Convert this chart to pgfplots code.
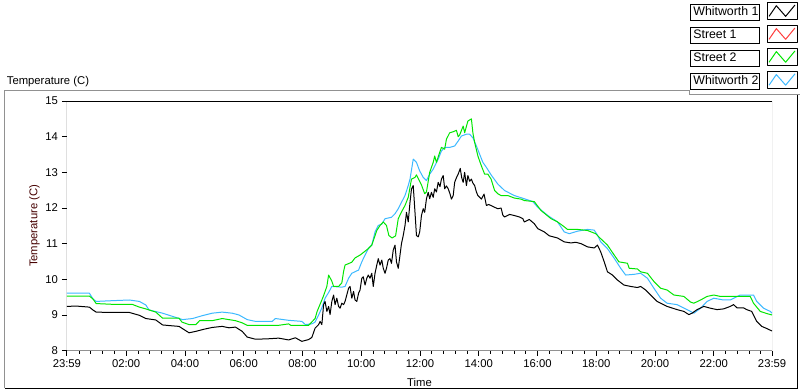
\documentclass[border=0pt]{standalone}
\usepackage{fontspec}
\setmainfont{Liberation Sans}
\usepackage{pgfplots}
\pgfplotsset{compat=1.18}
\definecolor{lvgreen}{RGB}{0,230,0}
\definecolor{lvblue}{RGB}{60,185,255}
\definecolor{lvred}{RGB}{255,60,60}
\definecolor{framegray}{RGB}{145,145,145}
\definecolor{ylab}{RGB}{70,0,0}
\begin{document}
\fontsize{8.5}{10}\selectfont
\setlength\fboxsep{0.6pt}\setlength\fboxrule{0.6pt}
\begin{tikzpicture}
\useasboundingbox (0,0) rectangle (600pt,294pt);
\fill[white] (0,0) rectangle (600pt,294pt);
\draw[framegray, line width=0.75pt] (1.1pt,1.5pt) -- (1.1pt,225.75pt) -- (516.75pt,225.75pt) -- (516.75pt,222.75pt) -- (600pt,222.75pt);
\draw[black, line width=0.75pt] (598.3pt,222.75pt) -- (598.3pt,1.5pt) -- (1.1pt,1.5pt);
\node[anchor=west, inner sep=0pt] at (2.6pt,232.5pt) {Temperature (C)};
\begin{axis}[
  at={(48pt,30pt)}, anchor=south west,
  width=531pt, height=187.9pt, scale only axis,
  xmin=-0.01667, xmax=23.98333, ymin=8, ymax=15,
  axis line style={draw=none},
  xtick={-0.01667,2,4,6,8,10,12,14,16,18,20,22,23.98333},
  xticklabels={23:59,02:00,04:00,06:00,08:00,10:00,12:00,14:00,16:00,18:00,20:00,22:00,23:59},
  minor xtick={0.4,0.8,1.2,1.6,2.4,2.8,3.2,3.6,4.4,4.8,5.2,5.6,6.4,6.8,7.2,7.6,8.4,8.8,9.2,9.6,10.4,10.8,11.2,11.6,12.4,12.8,13.2,13.6,14.4,14.8,15.2,15.6,16.4,16.8,17.2,17.6,18.4,18.8,19.2,19.6,20.4,20.8,21.2,21.6,22.4,22.8,23.2,23.6},
  ytick={8,9,...,15},
  xtick pos=left, ytick pos=left, tick align=outside,
  major tick length=3.8pt, minor tick length=2.2pt,
  every tick/.style={black, line width=0.6pt},
  /pgf/number format/assume math mode=true,
  tick label style={font=\fontsize{8.5}{10}\selectfont},
  xlabel={Time}, ylabel={Temperature (C)},
  xlabel style={at={(axis description cs:0.5,-0.128)}, anchor=center},
  ylabel style={at={(axis description cs:-0.046,0.5)}, anchor=center, color=ylab},
  legend style={at={(1.0367,1.398)}, anchor=north east, draw=none, fill=none,
    inner sep=0pt, outer sep=0pt, row sep=3.3pt, column sep=3pt,
    font=\fontsize{9.3}{11}\selectfont},
  legend cell align=left,
  legend plot pos=right,
  legend image code/.code={
    \draw[black, solid, line width=0.6pt, fill=white] (0pt,-6.2pt) rectangle (23pt,6.2pt);
    \draw[line width=0.75pt] (1.5pt,-4pt) -- (7pt,4pt) -- (14pt,-4pt) -- (21pt,4.5pt);
  },
  line join=round,
]
\addplot[lvblue, line width=0.75pt, forget plot] coordinates {
(-0.017,9.61) (0.75,9.61) (0.87,9.45) (0.98,9.38) (1.5,9.40) (2.11,9.42) (2.45,9.38) (2.67,9.28) (2.78,9.14) (3.24,9.05) (3.92,8.87) (4.26,8.90) (4.59,8.98) (4.93,9.05) (5.27,9.08) (5.61,9.05) (5.84,9.0) (6.12,8.87) (6.40,8.82) (6.97,8.82) (7.08,8.90) (7.53,8.85) (7.98,8.82) (8.1,8.73) (8.32,8.75) (8.43,8.80) (8.55,9.0) (8.66,9.20) (8.77,9.47) (8.89,9.63) (9.00,9.80) (9.34,9.78) (9.45,9.80) (9.57,10.03) (9.68,10.17) (9.91,10.26) (10.02,10.49) (10.13,10.68) (10.24,10.86) (10.36,10.96) (10.47,11.33) (10.58,11.51) (10.70,11.55) (10.81,11.70) (11.03,11.74) (11.15,11.84) (11.26,11.98) (11.37,12.16) (11.49,12.35) (11.60,12.63) (11.66,12.81) (11.77,13.37) (11.88,13.28) (11.99,13.04) (12.11,12.86) (12.22,12.77) (12.33,12.95) (12.45,13.09) (12.62,13.37) (12.73,13.60) (12.84,13.70) (13.01,13.70) (13.18,13.74) (13.30,13.88) (13.41,14.02) (13.58,14.07) (13.69,14.07) (13.80,13.97) (13.92,13.74) (14.03,13.51) (14.14,13.28) (14.26,13.14) (14.42,12.93) (14.65,12.67) (14.88,12.49) (15.21,12.35) (15.55,12.26) (15.84,12.18) (16.01,12.02) (16.35,11.79) (16.68,11.61) (16.91,11.33) (17.08,11.28) (17.36,11.35) (17.70,11.40) (17.93,11.38) (18.04,11.24) (18.15,11.05) (18.38,10.86) (18.61,10.59) (18.83,10.31) (19.00,10.12) (19.29,10.14) (19.51,10.17) (19.74,10.03) (19.96,9.75) (20.19,9.47) (20.41,9.33) (20.75,9.29) (21.09,9.15) (21.32,9.05) (21.55,9.19) (21.77,9.38) (22.0,9.47) (22.33,9.42) (22.56,9.42) (22.9,9.56) (23.35,9.56) (23.46,9.38) (23.69,9.19) (23.92,9.10) (23.98,9.05)
};
\addplot[lvgreen, line width=0.75pt, forget plot] coordinates {
(-0.017,9.53) (0.75,9.53) (0.87,9.45) (0.98,9.32) (1.5,9.30) (2.2,9.30) (2.45,9.22) (2.67,9.17) (3.01,9.08) (3.24,8.91) (3.80,8.91) (3.9,8.80) (4.14,8.73) (4.37,8.73) (4.5,8.84) (4.93,8.84) (5.27,8.90) (5.72,8.84) (5.95,8.78) (6.12,8.71) (7.19,8.71) (7.53,8.75) (7.6,8.71) (8.21,8.71) (8.43,8.90) (8.50,9.10) (8.60,9.30) (8.71,9.52) (8.83,9.80) (8.89,10.12) (9.00,9.95) (9.06,9.80) (9.23,9.80) (9.34,9.90) (9.40,10.22) (9.45,10.40) (9.68,10.48) (9.79,10.60) (9.96,10.68) (10.07,10.75) (10.24,10.86) (10.36,10.96) (10.53,11.37) (10.64,11.51) (10.75,11.61) (10.86,11.51) (10.94,11.23) (11.05,11.16) (11.17,11.22) (11.26,11.70) (11.37,11.89) (11.49,12.07) (11.60,12.30) (11.71,12.81) (11.83,12.86) (11.88,12.93) (12.05,12.65) (12.16,12.40) (12.22,12.45) (12.33,13.00) (12.45,13.28) (12.50,13.46) (12.56,13.28) (12.67,13.56) (12.73,13.70) (12.84,13.65) (12.90,13.93) (13.01,14.11) (13.13,14.14) (13.24,14.18) (13.30,14.00) (13.35,14.05) (13.47,14.30) (13.52,14.11) (13.63,14.44) (13.75,14.50) (13.80,14.11) (13.86,13.84) (13.97,13.46) (14.09,13.18) (14.20,12.95) (14.31,12.95) (14.42,12.81) (14.54,12.49) (14.65,12.40) (14.76,12.35) (14.99,12.35) (15.21,12.28) (15.44,12.25) (15.55,12.21) (15.89,12.18) (16.12,11.93) (16.46,11.70) (16.68,11.61) (16.85,11.51) (17.02,11.40) (17.36,11.40) (17.70,11.37) (17.98,11.28) (18.15,11.14) (18.38,10.96) (18.61,10.68) (18.77,10.49) (19.06,10.45) (19.12,10.31) (19.40,10.29) (19.51,10.21) (19.74,10.17) (19.96,9.94) (20.19,9.75) (20.41,9.70) (20.64,9.56) (20.98,9.52) (21.21,9.36) (21.32,9.33) (21.55,9.42) (21.77,9.52) (22.0,9.56) (22.22,9.52) (23.24,9.52) (23.35,9.33) (23.58,9.10) (23.80,9.04) (23.98,9.00)
};
\addplot[black, line width=0.75pt, forget plot] coordinates {
(-0.017,9.24) (0.3,9.25) (0.75,9.22) (0.87,9.14) (0.98,9.08) (1.5,9.07) (2.11,9.07) (2.45,8.99) (2.67,8.90) (3.01,8.86) (3.24,8.72) (3.5,8.70) (3.80,8.68) (4.14,8.50) (4.37,8.54) (4.65,8.60) (4.93,8.65) (5.27,8.68) (5.5,8.64) (5.72,8.66) (5.95,8.54) (6.12,8.38) (6.40,8.32) (6.8,8.33) (7.19,8.35) (7.53,8.30) (7.76,8.36) (7.98,8.26) (8.21,8.31) (8.32,8.37) (8.43,8.63) (8.55,8.73) (8.60,8.82) (8.66,8.73) (8.72,9.29) (8.77,9.38) (8.83,9.10) (8.89,9.24) (8.94,9.01) (9.00,9.38) (9.06,9.56) (9.11,9.29) (9.17,9.47) (9.23,9.24) (9.28,9.19) (9.34,9.33) (9.40,9.29) (9.45,9.38) (9.57,9.75) (9.62,9.80) (9.68,9.47) (9.74,9.66) (9.79,9.42) (9.85,9.38) (9.91,9.61) (9.96,9.70) (10.02,10.03) (10.07,10.07) (10.13,9.84) (10.19,10.03) (10.24,10.12) (10.30,10.03) (10.36,10.17) (10.41,9.80) (10.47,10.17) (10.53,10.40) (10.58,10.58) (10.64,10.40) (10.70,10.54) (10.75,10.31) (10.81,10.17) (10.86,10.31) (10.92,10.54) (10.98,10.58) (11.03,10.45) (11.09,10.82) (11.15,10.96) (11.20,10.49) (11.26,10.31) (11.32,10.68) (11.37,11.0) (11.43,11.23) (11.49,11.51) (11.54,11.88) (11.60,11.61) (11.66,12.16) (11.71,12.53) (11.77,12.63) (11.83,11.88) (11.88,11.23) (11.94,11.19) (11.99,11.33) (12.05,11.79) (12.11,11.98) (12.16,11.88) (12.22,12.26) (12.28,12.44) (12.33,12.26) (12.39,12.44) (12.45,12.30) (12.50,12.54) (12.56,12.45) (12.62,12.72) (12.68,12.60) (12.73,12.81) (12.79,12.91) (12.84,12.54) (12.90,12.62) (12.96,12.54) (13.02,12.40) (13.07,12.25) (13.13,12.35) (13.18,12.72) (13.24,12.85) (13.30,12.95) (13.37,13.11) (13.42,12.85) (13.47,12.72) (13.52,13.0) (13.58,12.63) (13.63,12.91) (13.69,12.75) (13.75,12.81) (13.80,12.70) (13.86,12.63) (13.92,12.45) (13.97,12.35) (14.03,12.30) (14.09,12.25) (14.18,12.39) (14.26,12.07) (14.33,12.10) (14.42,12.07) (14.54,12.02) (14.65,11.98) (14.76,12.0) (14.82,11.80) (14.88,11.75) (15.05,11.82) (15.21,11.79) (15.38,11.75) (15.50,11.70) (15.55,11.61) (15.72,11.68) (15.89,11.56) (16.01,11.42) (16.23,11.33) (16.40,11.22) (16.68,11.16) (16.91,11.05) (17.14,11.02) (17.30,11.04) (17.48,11.0) (17.70,10.91) (17.93,10.88) (18.04,10.96) (18.15,10.77) (18.27,10.49) (18.38,10.21) (18.55,10.12) (18.72,9.98) (18.94,9.84) (19.17,9.80) (19.40,9.77) (19.51,9.80) (19.68,9.70) (19.85,9.56) (20.07,9.38) (20.41,9.24) (20.75,9.15) (20.98,9.10) (21.15,9.01) (21.26,9.05) (21.43,9.15) (21.66,9.24) (21.88,9.19) (22.11,9.15) (22.33,9.17) (22.56,9.24) (22.67,9.29) (22.79,9.20) (23.01,9.20) (23.12,9.15) (23.29,9.10) (23.46,8.82) (23.63,8.68) (23.80,8.62) (23.98,8.55)
};
\addlegendimage{black, line width=0.75pt}
\addlegendentry{\fbox{\makebox[50pt][l]{\rule[-2.5pt]{0pt}{10pt}\hspace{1pt}Whitworth 1}}}
\addlegendimage{lvred, line width=0.75pt}
\addlegendentry{\fbox{\makebox[50pt][l]{\rule[-2.5pt]{0pt}{10pt}\hspace{1pt}Street 1}}}
\addlegendimage{lvgreen, line width=0.75pt}
\addlegendentry{\fbox{\makebox[50pt][l]{\rule[-2.5pt]{0pt}{10pt}\hspace{1pt}Street 2}}}
\addlegendimage{lvblue, line width=0.75pt}
\addlegendentry{\fbox{\makebox[50pt][l]{\rule[-2.5pt]{0pt}{10pt}\hspace{1pt}Whitworth 2}}}
\draw[framegray, line width=0.75pt] (rel axis cs:0,0) -- (rel axis cs:1,0) -- (rel axis cs:1,1);
\draw[black, line width=0.75pt] (rel axis cs:0,0) -- (rel axis cs:0,1) -- (rel axis cs:1,1);
\end{axis}
\end{tikzpicture}
\end{document}
